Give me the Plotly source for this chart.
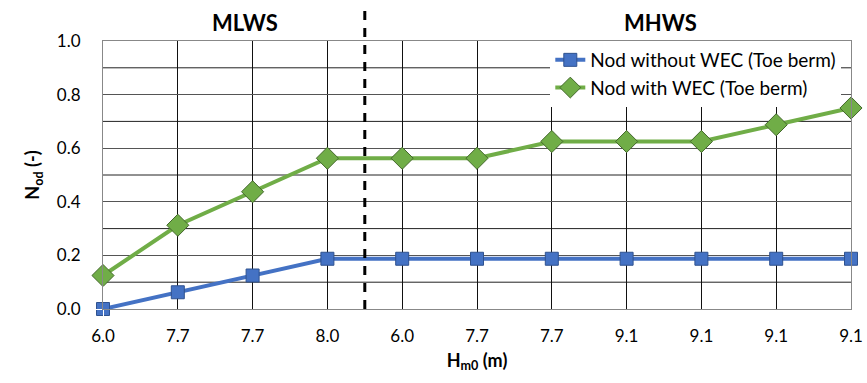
import plotly.graph_objects as go

x_labels = ["6.0", "7.7", "7.7", "8.0", "6.0", "7.7", "7.7", "9.1", "9.1", "9.1", "9.1"]
nod_without = [0.0, 0.0625, 0.125, 0.1875, 0.1875, 0.1875, 0.1875, 0.1875, 0.1875, 0.1875, 0.1875]
nod_with = [0.125, 0.3125, 0.4375, 0.5625, 0.5625, 0.5625, 0.625, 0.625, 0.625, 0.6875, 0.75]
y_ticks = [0.0, 0.2, 0.4, 0.6, 0.8, 1.0]

idx = list(range(len(x_labels)))
FONT = "Lato, 'Open Sans', sans-serif"

fig = go.Figure()
fig.add_trace(go.Scatter(
    x=idx, y=nod_without, mode="lines+markers", name="Nod without WEC (Toe berm)",
    line=dict(color="#4472C4", width=4),
    marker=dict(symbol="square", size=13, color="#4472C4", line=dict(color="#2F528F", width=1)),
    cliponaxis=False))
fig.add_trace(go.Scatter(
    x=idx, y=nod_with, mode="lines+markers", name="Nod with WEC (Toe berm)",
    line=dict(color="#70AD47", width=4),
    marker=dict(symbol="diamond", size=17, color="#70AD47", line=dict(color="#43682B", width=1)),
    cliponaxis=False))

# minor horizontal gridlines
for v in [0.1, 0.3, 0.5, 0.7, 0.9]:
    fig.add_shape(type="line", xref="paper", yref="y", x0=0, x1=1, y0=v, y1=v,
                  line=dict(color="#222222", width=1), layer="below")

fig.add_shape(type="line", xref="x", yref="paper", x0=3.5, x1=3.5, y0=0, y1=1.125,
              line=dict(color="black", width=3, dash="9px,8px"))

fig.add_annotation(x=1.9, y=1.07, xref="x", yref="paper", text="<b>MLWS</b>", showarrow=False,
                   font=dict(size=22, color="black", family=FONT), yanchor="middle")
fig.add_annotation(x=7.45, y=1.07, xref="x", yref="paper", text="<b>MHWS</b>", showarrow=False,
                   font=dict(size=22, color="black", family=FONT), yanchor="middle")

fig.update_layout(
    width=867, height=383,
    margin=dict(l=103, r=16, t=41, b=74, autoexpand=False),
    paper_bgcolor="white", plot_bgcolor="white",
    font=dict(family=FONT, size=17, color="black"),
    showlegend=True,
    legend=dict(x=0.598, y=1.0, xanchor="left", yanchor="top", bgcolor="white",
                font=dict(size=19, family=FONT), itemwidth=30, tracegroupgap=6),
    xaxis=dict(range=[0, 10], tickmode="array", tickvals=idx, ticktext=x_labels,
               showgrid=True, gridcolor="#111111", gridwidth=1, zeroline=False,
               showline=True, linecolor="#888888", linewidth=1, mirror=True,
               ticks="outside", ticklen=12, tickcolor="white", automargin=False,
               title=dict(text="<b>H<sub>m0</sub> (m)</b>", font=dict(size=18), standoff=8)),
    yaxis=dict(range=[0, 1.0], tickmode="array", tickvals=y_ticks,
               ticktext=[f"{v:.1f}" for v in y_ticks],
               showgrid=True, gridcolor="#555555", gridwidth=1, zeroline=False,
               showline=True, linecolor="#888888", linewidth=1, mirror=True,
               ticks="outside", ticklen=18, tickcolor="white", automargin=False,
               title=dict(text="<b>N<sub>od</sub> (-)</b>", font=dict(size=18), standoff=12)),
)

fig.write_html("out.html", config={"displayModeBar": False},
               post_script="document.body.style.margin='0';document.body.style.overflow='hidden';")
